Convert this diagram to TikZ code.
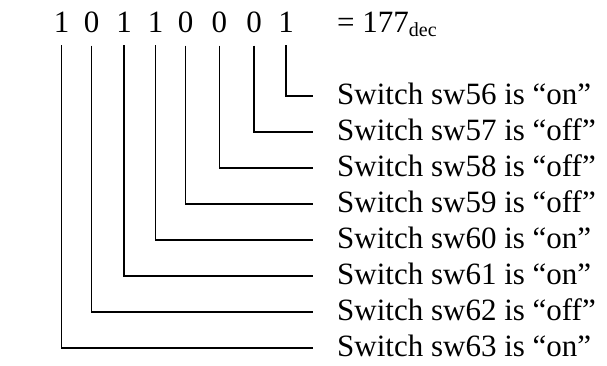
\documentclass[tikz,border=0pt]{standalone}
\usepackage{fontspec}
\setmainfont{Liberation Serif}
\tikzset{
  bitnum/.style={anchor=base, inner xsep=0pt, inner ysep=12pt, font=\fontsize{31}{36}\selectfont},
  swlabel/.style={anchor=west, inner xsep=24pt, inner ysep=0pt, text height=17pt, text depth=0pt, font=\fontsize{31}{36}\selectfont},
  wire/.style={line width=1.4pt}
}
\begin{document}
\begin{tikzpicture}[x=1pt,y=-1pt]
\useasboundingbox (0,0) rectangle (607,366);
\node[bitnum] (bit7) at (61.7,33){1};
\node[bitnum] (bit6) at (91.7,33){0};
\node[bitnum] (bit5) at (124,33){1};
\node[bitnum] (bit4) at (155.7,33){1};
\node[bitnum] (bit3) at (185.7,33){0};
\node[bitnum] (bit2) at (219.3,33){0};
\node[bitnum] (bit1) at (254,33){0};
\node[bitnum] (bit0) at (286,33){1};
\node[bitnum, anchor=base west, inner sep=0pt] (dec) at (337,33){= 177\raisebox{-4pt}{\fontsize{20}{22}\selectfont dec}};
\node[swlabel] (sw56) at (313,96){Switch sw56 is “on”};
\node[swlabel] (sw57) at (313,132){Switch sw57 is “off”};
\node[swlabel] (sw58) at (313,168){Switch sw58 is “off”};
\node[swlabel] (sw59) at (313,204){Switch sw59 is “off”};
\node[swlabel] (sw60) at (313,240){Switch sw60 is “on”};
\node[swlabel] (sw61) at (313,276){Switch sw61 is “on”};
\node[swlabel] (sw62) at (313,312){Switch sw62 is “off”};
\node[swlabel] (sw63) at (313,348){Switch sw63 is “on”};
\draw[wire](bit0.south) |- (sw56.west);
\draw[wire](bit1.south) |- (sw57.west);
\draw[wire](bit2.south) |- (sw58.west);
\draw[wire](bit3.south) |- (sw59.west);
\draw[wire](bit4.south) |- (sw60.west);
\draw[wire](bit5.south) |- (sw61.west);
\draw[wire](bit6.south) |- (sw62.west);
\draw[wire](bit7.south) |- (sw63.west);
\end{tikzpicture}
\end{document}
